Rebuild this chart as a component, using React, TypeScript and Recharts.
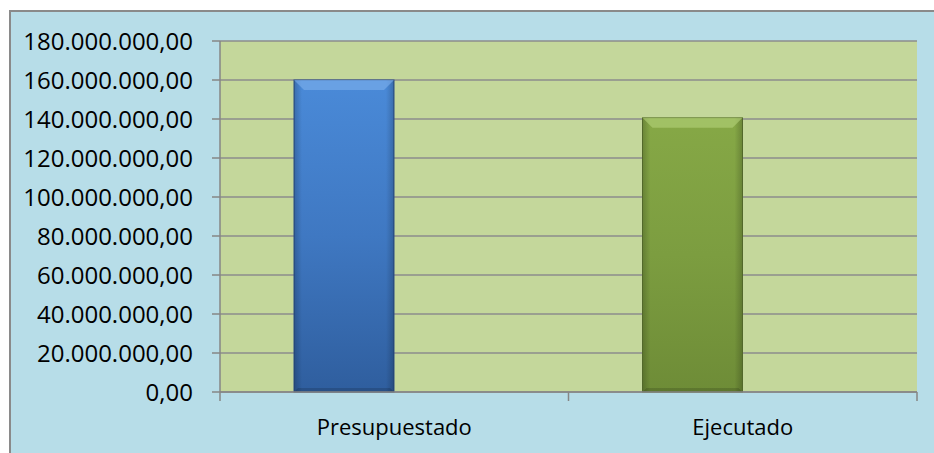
import React from 'react';
import { BarChart, Bar, XAxis, YAxis, CartesianGrid } from 'recharts';

const categories = ['Presupuestado', 'Ejecutado'];
const montos = [160000000, 140600000];
// second series of the original chart is empty, so the bars sit to the left of each category
const serieVacia = [null, null];
const yTicks = [0, 20000000, 40000000, 60000000, 80000000, 100000000, 120000000, 140000000, 160000000, 180000000];

const data = categories.map((name, i) => ({ name, monto: montos[i], vacio: serieVacia[i] }));

const formatMonto = (v: number) => {
  const entero = Math.round(v).toString().replace(/\B(?=(\d{3})+(?!\d))/g, '.');
  return entero + ',00';
};

const gradIds = ['gradBlue', 'gradGreen'];
const edgeColors = ['#2a4f86', '#5b7430'];
const bevelColors = ['#7fb0ec', '#b4d27a'];
const axisGray = '#868686';
const font = '"Open Sans", sans-serif';

// bar with excel-like bevel
const BevelBar = (props: any) => {
  const { x, y, width, height, index } = props;
  if (!height || height <= 0) return null;
  const b = 10;
  return (
    <g>
      <rect x={x} y={y} width={width} height={height} fill={`url(#${gradIds[index]})`} stroke={edgeColors[index]} strokeWidth={1} />
      <rect x={x} y={y} width={width} height={height} fill="url(#sideShade)" />
      <polygon
        points={`${x},${y} ${x + width},${y} ${x + width - b},${y + b} ${x + b},${y + b}`}
        fill={bevelColors[index]}
        opacity={0.6}
      />
      <polygon
        points={`${x},${y + height} ${x + width},${y + height} ${x + width - 4},${y + height - 4} ${x + 4},${y + height - 4}`}
        fill="#000"
        opacity={0.15}
      />
    </g>
  );
};

// category label plus tick marks at the band edges
const CategoryTick = (props: any) => {
  const { x, y, payload, index, visibleTicksCount } = props;
  const half = payload.offset || 0;
  const axisY = y - 27;
  const last = index === (visibleTicksCount ?? categories.length) - 1;
  return (
    <g>
      <line x1={x - half} x2={x - half} y1={axisY} y2={axisY + 9} stroke={axisGray} strokeWidth={1.5} />
      {last && <line x1={x + half} x2={x + half} y1={axisY} y2={axisY + 9} stroke={axisGray} strokeWidth={1.5} />}
      <text x={x} y={y} dy="0.71em" textAnchor="middle" fill="#000" fontSize={22} fontFamily={font}>
        {payload.value}
      </text>
    </g>
  );
};

export default function App() {
  return (
    <div
      style={{
        position: 'absolute',
        left: 9,
        top: 10,
        width: 923,
        height: 441,
        background: '#b7dde8',
        borderTop: '2px solid #8a8a8a',
        borderLeft: '2px solid #8a8a8a',
      }}
    >
      <BarChart width={923} height={441} data={data} margin={{ top: 29, right: 17, bottom: 0, left: 0 }} barSize={100} barGap={0}>
        <defs>
          <linearGradient id="gradBlue" x1="0" y1="0" x2="0" y2="1">
            <stop offset="0%" stopColor="#4a8ad8" />
            <stop offset="50%" stopColor="#3f78c2" />
            <stop offset="100%" stopColor="#2f5e9e" />
          </linearGradient>
          <linearGradient id="gradGreen" x1="0" y1="0" x2="0" y2="1">
            <stop offset="0%" stopColor="#86a846" />
            <stop offset="50%" stopColor="#7c9d40" />
            <stop offset="100%" stopColor="#6e8c37" />
          </linearGradient>
          <linearGradient id="sideShade" x1="0" y1="0" x2="1" y2="0">
            <stop offset="0%" stopColor="#000" stopOpacity={0.2} />
            <stop offset="8%" stopColor="#000" stopOpacity={0} />
            <stop offset="92%" stopColor="#000" stopOpacity={0} />
            <stop offset="100%" stopColor="#000" stopOpacity={0.2} />
          </linearGradient>
        </defs>
        <CartesianGrid vertical={false} fill="#c4d79b" stroke="#8c8c8c" strokeWidth={1.5} />
        <XAxis
          dataKey="name"
          height={61}
          tickSize={0}
          tickMargin={27}
          tickLine={false}
          interval={0}
          axisLine={{ stroke: axisGray, strokeWidth: 1.5 }}
          tick={<CategoryTick />}
        />
        <YAxis
          width={209}
          domain={[0, 180000000]}
          ticks={yTicks}
          tickFormatter={formatMonto}
          tickSize={8}
          tickMargin={19}
          interval={0}
          axisLine={{ stroke: axisGray, strokeWidth: 1.5 }}
          tickLine={{ stroke: axisGray, strokeWidth: 1.5 }}
          tick={{ fill: '#000', fontSize: 24, fontFamily: font }}
        />
        <Bar dataKey="monto" isAnimationActive={false} shape={<BevelBar />} />
        <Bar dataKey="vacio" isAnimationActive={false} fill="none" />
      </BarChart>
    </div>
  );
}
